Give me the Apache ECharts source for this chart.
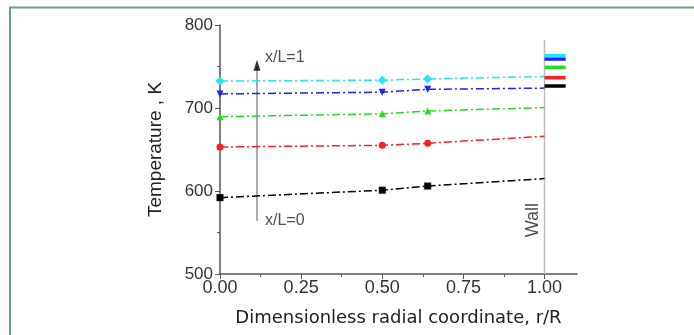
<!DOCTYPE html>
<html><head><meta charset="utf-8">
<script src="https://cdn.jsdelivr.net/npm/echarts@6/dist/echarts.min.js"></script>
<style>html,body{margin:0;padding:0;background:#fff}#c{width:694px;height:335px}</style>
</head><body><div id="c"></div>
<script>
// Radial positions (r/R)
const rPoints = [0, 0.5, 0.64, 1.0];
// Temperature profiles (K) for x/L = 0 ... 1
const tBlack = [592, 601, 606, 615];
const tRed   = [653, 655, 657.5, 666];
const tGreen = [689.5, 693, 696.5, 700.5];
const tBlue  = [717, 719, 722.5, 724];
const tCyan  = [732.5, 733.5, 735, 738];
// Wall temperatures (K)
const wallT = [726.5, 736.5, 749, 759, 763];
const wallX = [1.0, 1.065];
// Arrow (x, from, to)
const arrowX = 0.114;
const arrowFrom = 564;
const arrowTo = 758;
const wallTop = 782;
const xTicks = [0, 0.25, 0.5, 0.75, 1.0];
const xMinorTicks = [0.125, 0.375, 0.625, 0.875];

const names = ['x/L=0', 'x/L=0.25', 'x/L=0.5', 'x/L=0.75', 'x/L=1'];
const colors = ['#000000', '#ff1f1f', '#1fe01f', '#1f1fff', '#1fe8f0'];
const symbols = ['rect', 'circle', 'triangle', 'path://M0,0 L10,0 L5,10 Z', 'diamond'];
const profiles = [tBlack, tRed, tGreen, tBlue, tCyan];
const FONT = 'Liberation Sans';

const series = [];
profiles.forEach((p, i) => {
  series.push({
    type: 'line', name: names[i], z: 5,
    data: rPoints.map((r, j) => ({
      value: [r, p[j]],
      symbol: j < 3 ? symbols[i] : 'none'
    })),
    symbolSize: i === 4 ? 9 : 7,
    showAllSymbol: true,
    lineStyle: { color: colors[i], width: 1.5, type: [8, 3, 2, 3] },
    itemStyle: { color: colors[i] },
    clip: false, animation: false
  });
  series.push({
    type: 'line', z: 6,
    data: wallX.map(x => [x, wallT[i]]),
    symbol: 'none',
    lineStyle: { color: colors[i], width: 3.5 },
    clip: false, animation: false
  });
});
// wall line
series.push({
  type: 'line', z: 2, data: [[1.0, 500], [1.0, wallTop]], symbol: 'none',
  lineStyle: { color: '#bdbdbd', width: 1.5 }, animation: false
});
// arrow shaft
series.push({
  type: 'line', z: 2, data: [[arrowX, arrowFrom], [arrowX, arrowTo - 8]], symbol: 'none',
  lineStyle: { color: '#aaaaaa', width: 2 }, animation: false
});
// arrow head (tip at arrowTo)
series.push({
  type: 'scatter', z: 3, data: [[arrowX, arrowTo]], symbol: 'triangle', symbolSize: [7, 11],
  symbolOffset: [0, 5.5],
  itemStyle: { color: '#000' }, animation: false
});
// labels near arrow ends
series.push({
  type: 'scatter', z: 3, data: [[arrowX, arrowTo]], symbolSize: 0, animation: false,
  label: { show: true, position: 'right', distance: 8, formatter: 'x/L=1', color: '#222', fontSize: 16, fontFamily: FONT, offset: [0, -2] }
});
series.push({
  type: 'scatter', z: 3, data: [[arrowX, arrowFrom]], symbolSize: 0, animation: false,
  label: { show: true, position: 'right', distance: 8, formatter: 'x/L=0', color: '#222', fontSize: 16, fontFamily: FONT }
});
// Wall text
series.push({
  type: 'scatter', z: 3, data: [[0.966, 565]], symbolSize: 0, animation: false,
  label: { show: true, position: 'inside', formatter: 'Wall', rotate: 90, color: '#222', fontSize: 18, fontFamily: FONT }
});

const chart = echarts.init(document.getElementById('c'), null, { renderer: 'canvas' });
chart.setOption({
  animation: false,
  backgroundColor: '#fff',
  graphic: [{
    type: 'polyline', shape: { points: [[10, 335], [10, 7.5], [694, 7.5]] },
    style: { stroke: '#6aa57e', lineWidth: 2, fill: null }
  }],
  grid: { left: 220, top: 25, right: 117, bottom: 61, containLabel: false },
  xAxis: [{
    type: 'value', min: 0, max: 1.1, interval: 0.25,
    name: 'Dimensionless radial coordinate, r/R', nameLocation: 'middle', nameGap: 35,
    nameTextStyle: { fontSize: 18, color: '#222', fontFamily: 'DejaVu Sans' },
    axisLine: { show: true, lineStyle: { color: '#555', width: 1.5 } },
    axisTick: { show: true, length: 5, inside: false, customValues: xTicks, lineStyle: { color: '#555' } },
    minorTick: { show: false },
    axisLabel: { customValues: xTicks, color: '#333', fontSize: 18, fontFamily: FONT, margin: 5,
      formatter: v => v.toFixed(2) },
    splitLine: { show: false }
  }, {
    type: 'value', min: 0, max: 1.1, position: 'bottom', gridIndex: 0,
    axisLine: { show: false },
    axisTick: { show: true, length: 3, customValues: xMinorTicks, lineStyle: { color: '#555' } },
    axisLabel: { show: false },
    splitLine: { show: false }
  }],
  yAxis: {
    type: 'value', min: 500, max: 800, interval: 100,
    name: 'Temperature , K', nameLocation: 'middle', nameGap: 55,
    nameTextStyle: { fontSize: 19, color: '#222', fontFamily: FONT },
    axisLine: { show: true, lineStyle: { color: '#555', width: 1.5 } },
    axisTick: { show: true, length: 5, lineStyle: { color: '#555' } },
    minorTick: { show: true, splitNumber: 2, length: 3, lineStyle: { color: '#555' } },
    axisLabel: { color: '#333', fontSize: 17, fontFamily: FONT, margin: 7 },
    splitLine: { show: false }
  },
  series: series
});
</script></body></html>
